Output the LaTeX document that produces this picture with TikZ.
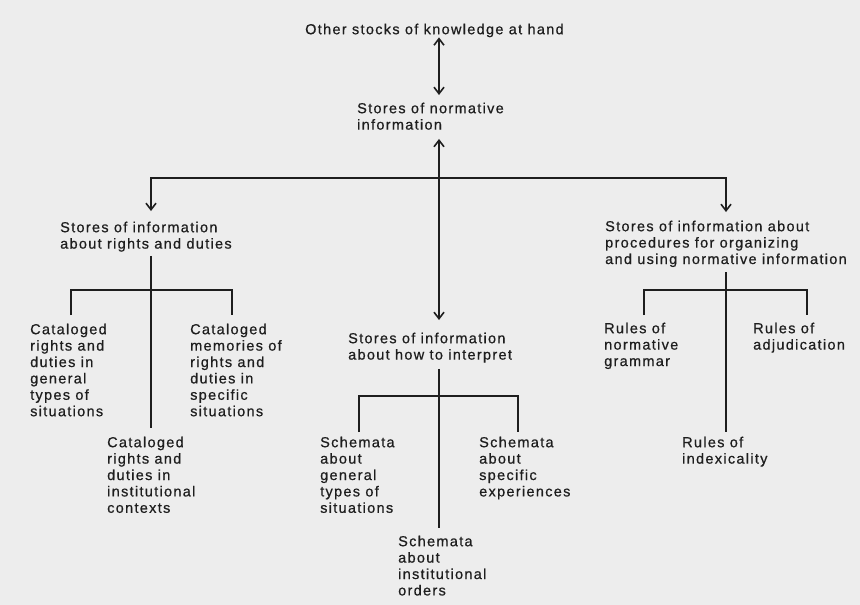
\documentclass[tikz,border=0pt]{standalone}
\usepackage{fontspec}
\setmainfont{Liberation Sans}[LetterSpace=9,FakeBold=0.6]
\usetikzlibrary{arrows.meta}
\definecolor{paper}{HTML}{EDEDED}
\definecolor{ink}{HTML}{1E1E1E}

\begin{document}
\begin{tikzpicture}[x=1pt,y=-1pt,
  lbl/.style={anchor=north west, inner sep=0pt, align=left, text=ink,
              font=\fontsize{14.5}{16.4}\selectfont},
  wire/.style={draw=ink, line width=1.6pt},
  tip/.style={-{Straight Barb[length=6.5pt,width=10pt]}},
  both/.style={{Straight Barb[length=6.5pt,width=10pt]}-{Straight Barb[length=6.5pt,width=10pt]}}
]
\useasboundingbox[fill=paper] (0,0) rectangle (860,605);

% --- labels -------------------------------------------------------------
\node[lbl] (top)    at (305,23.5)  {Other stocks of knowledge at hand};
\node[lbl] (norm)   at (357,102.5) {Stores of normative\\information};
\node[lbl] (rights) at (60,221.5)  {Stores of information\\about rights and duties};
\node[lbl] (proc)   at (605,220.5) {Stores of information about\\procedures for organizing\\and using normative information};
\node[lbl] (interp) at (348,332.5) {Stores of information\\about how to interpret};

\node[lbl] (catgen)  at (30,323.5)  {Cataloged\\rights and\\duties in\\general\\types of\\situations};
\node[lbl] (catmem)  at (190,323.5) {Cataloged\\memories of\\rights and\\duties in\\specific\\situations};
\node[lbl] (catinst) at (107,436.5) {Cataloged\\rights and\\duties in\\institutional\\contexts};

\node[lbl] (schgen)  at (320,436.5) {Schemata\\about\\general\\types of\\situations};
\node[lbl] (schspec) at (479,436.5) {Schemata\\about\\specific\\experiences};
\node[lbl] (schinst) at (398,535.5) {Schemata\\about\\institutional\\orders};

\node[lbl] (grammar) at (604,322.5) {Rules of\\normative\\grammar};
\node[lbl] (adjud)   at (753,322.5) {Rules of\\adjudication};
\node[lbl] (index)   at (682,436.5) {Rules of\\indexicality};

% --- junction points ----------------------------------------------------
\coordinate (hub)  at (439,178);
\coordinate (hubL) at (151,178);
\coordinate (hubR) at (726,178);

\coordinate (rB)  at (151,290);
\coordinate (rBL) at (71,290);
\coordinate (rBR) at (232,290);

\coordinate (iB)  at (439,396);
\coordinate (iBL) at (359,396);
\coordinate (iBR) at (518,396);

\coordinate (pB)  at (726,290);
\coordinate (pBL) at (644,290);
\coordinate (pBR) at (807,290);

% --- main spine ---------------------------------------------------------
\draw[wire, both, shorten >=7.5] (top.south -| hub) -- (norm.north -| hub);
\draw[wire, tip, shorten >=9]    (hub) -- (norm.south -| hub);
\draw[wire, tip, shorten >=12.5] (hub) -- (interp.north -| hub);
\draw[wire, tip, shorten >=10.5] (hub) -- (hubL) -- (rights.north -| hubL);
\draw[wire, tip, shorten >=8.5]  (hub) -- (hubR) -- (proc.north -| hubR);

% --- rights and duties --------------------------------------------------
\draw[wire, shorten <=4, shorten >=8.5] (rights.south -| rB) -- (catinst.north -| rB);
\draw[wire, shorten <=8.5, shorten >=8.5]
  (catgen.north -| rBL) -- (rBL) -- (rBR) -- (catmem.north -| rBR);

% --- how to interpret ---------------------------------------------------
\draw[wire, shorten <=6, shorten >=7.5] (interp.south -| iB) -- (schinst.north -| iB);
\draw[wire, shorten <=4.5, shorten >=4.5]
  (schgen.north -| iBL) -- (iBL) -- (iBR) -- (schspec.north -| iBR);

% --- procedures ---------------------------------------------------------
\draw[wire, shorten <=5, shorten >=4.5] (proc.south -| pB) -- (index.north -| pB);
\draw[wire, shorten <=7.5, shorten >=7.5]
  (grammar.north -| pBL) -- (pBL) -- (pBR) -- (adjud.north -| pBR);
\end{tikzpicture}
\end{document}
